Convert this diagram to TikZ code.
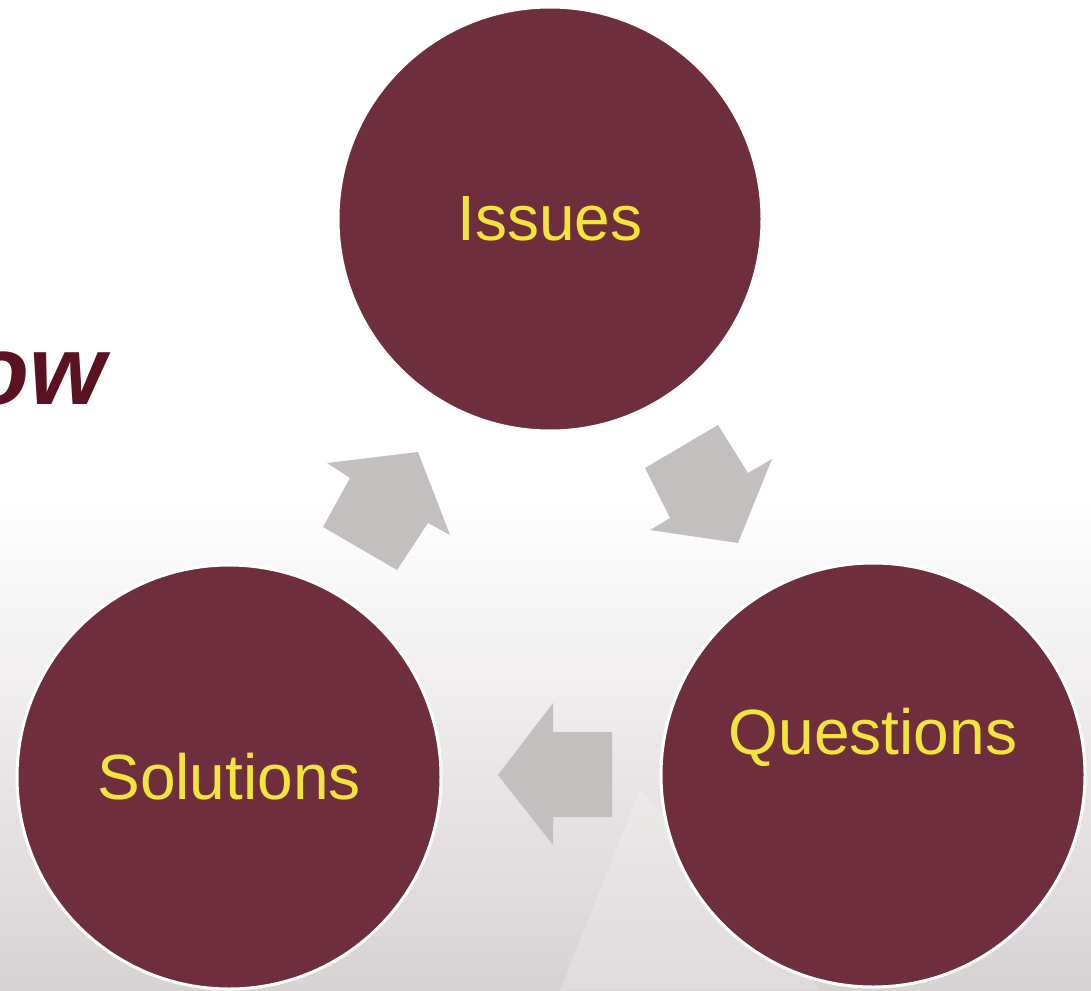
\documentclass[tikz,border=0pt]{standalone}
\usepackage{fontspec}
\setmainfont{Liberation Sans}
\definecolor{maroon}{HTML}{6E2E3E}
\definecolor{gold}{HTML}{F2E53A}
\definecolor{cyclegray}{HTML}{C4BFBF}
\definecolor{titlered}{HTML}{5A1222}
\definecolor{bggray}{HTML}{D8D2D3}

\begin{document}
\begin{tikzpicture}[x=1pt,y=-1pt,
  stage/.style={circle,fill=maroon,draw=white,line width=3pt,minimum size=424pt,inner sep=0pt},
  stagetext/.style={text=gold,font=\fontsize{64}{70}\selectfont},
  turn/.style={fill=cyclegray}]
\useasboundingbox (0,0) rectangle (1091,990);
\clip (0,0) rectangle (1091,990);
% background
\fill[white] (0,0) rectangle (1091,495);
\fill[top color=white,bottom color=bggray] (0,495) rectangle (1091,990);
\fill[white,opacity=0.2] (560,990) -- (640,790) -- (820,990) -- cycle;
% title
\node[anchor=base east,text=titlered,inner sep=0pt,font=\fontsize{98}{110}\selectfont\bfseries\itshape] (title) at (106,404) {ow};
% stages
\node[stage,label={[stagetext]center:Issues}] (issues) at (550,219) {};
\node[stage,label={[stagetext,yshift=38pt]center:Questions}] (questions) at (873,775) {};
\node[stage,label={[stagetext]center:Solutions}] (solutions) at (229,777) {};
% arrows
\fill[turn] (418,452) -- (450,535) -- (428,523) -- (397,570) -- (323,527) -- (350,478) -- (327,463) -- cycle;
\fill[turn] (718,425) -- (748,473) -- (772,459) -- (738,543) -- (650,530) -- (670,518) -- (645,468) -- cycle;
\fill[turn] (498,775) -- (553,703) -- (553,732) -- (612,732) -- (612,817) -- (553,817) -- (553,845) -- cycle;
\end{tikzpicture}
\end{document}
